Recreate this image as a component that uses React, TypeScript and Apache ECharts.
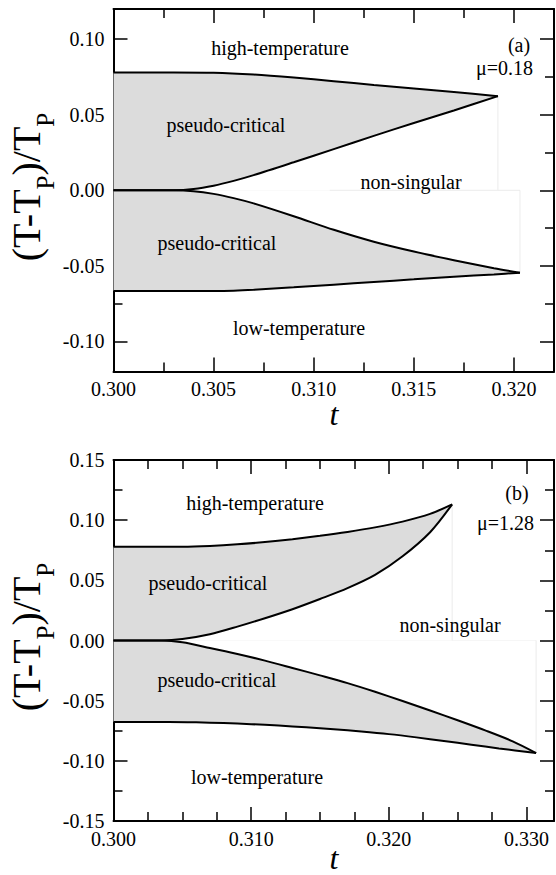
import { useEffect, useRef } from "react";
import * as echarts from "echarts";

// ---------- panel (a): mu = 0.18 ----------
const aHighUpper: [number, number][] = [
  [0.300, 0.078], [0.303, 0.078], [0.305, 0.0778], [0.307, 0.0766], [0.309, 0.0746],
  [0.311, 0.0722], [0.313, 0.0697], [0.315, 0.0674], [0.317, 0.0651], [0.3192, 0.0623],
];
const aHighLower: [number, number][] = [
  [0.300, 0], [0.303, 0], [0.304, 0.0008], [0.305, 0.003], [0.306, 0.0062], [0.307, 0.0100],
  [0.309, 0.0185], [0.311, 0.0272], [0.313, 0.0360], [0.315, 0.0445], [0.317, 0.0528], [0.3192, 0.0623],
];
const aLowUpper: [number, number][] = [
  [0.300, 0], [0.303, 0], [0.304, -0.0006], [0.305, -0.0024], [0.306, -0.0052], [0.307, -0.0087],
  [0.309, -0.0172], [0.311, -0.0262], [0.313, -0.0341], [0.315, -0.0406], [0.317, -0.0463],
  [0.319, -0.0516], [0.3203, -0.0546],
];
const aLowLower: [number, number][] = [
  [0.300, -0.0667], [0.303, -0.0667], [0.305, -0.0667], [0.306, -0.0665], [0.307, -0.0659],
  [0.309, -0.0643], [0.311, -0.0625], [0.313, -0.0607], [0.315, -0.059], [0.317, -0.0573],
  [0.319, -0.0557], [0.3203, -0.0546],
];
const aFaintZeroStart = 0.3108;
const aXMajor = [0.300, 0.305, 0.310, 0.315, 0.320];
const aXMinor = [0.3025, 0.3075, 0.3125, 0.3175];
const aYMajor = [-0.10, -0.05, 0, 0.05, 0.10];
const aYMinor = [-0.075, -0.025, 0.025, 0.075];

// ---------- panel (b): mu = 1.28 ----------
const bHighUpper: [number, number][] = [
  [0.300, 0.078], [0.303, 0.078], [0.305, 0.078], [0.307, 0.0786], [0.309, 0.0799], [0.311, 0.0818],
  [0.313, 0.0842], [0.315, 0.087], [0.317, 0.0902], [0.319, 0.094], [0.321, 0.0988], [0.323, 0.1052],
  [0.3246, 0.1131],
];
const bHighLower: [number, number][] = [
  [0.300, 0], [0.3035, 0], [0.305, 0.0012], [0.307, 0.0052], [0.309, 0.0115], [0.311, 0.0185],
  [0.313, 0.026], [0.315, 0.0345], [0.317, 0.0435], [0.319, 0.0545], [0.321, 0.07], [0.323, 0.09],
  [0.3246, 0.1131],
];
const bLowUpper: [number, number][] = [
  [0.300, 0], [0.3035, 0], [0.305, -0.0015], [0.307, -0.0062], [0.309, -0.0112], [0.311, -0.0167],
  [0.313, -0.0228], [0.315, -0.029], [0.317, -0.0354], [0.319, -0.0426], [0.321, -0.0503],
  [0.323, -0.0582], [0.325, -0.0663], [0.327, -0.0747], [0.329, -0.0838], [0.3307, -0.0935],
];
const bLowLower: [number, number][] = [
  [0.300, -0.0677], [0.304, -0.0677], [0.306, -0.068], [0.308, -0.0686], [0.310, -0.0695],
  [0.312, -0.0707], [0.314, -0.0721], [0.316, -0.0737], [0.318, -0.0756], [0.320, -0.0778],
  [0.322, -0.0805], [0.324, -0.0835], [0.326, -0.0866], [0.328, -0.0897], [0.3307, -0.0935],
];
const bXMajor = [0.300, 0.310, 0.320, 0.330];
const bXMinor = [0.3025, 0.305, 0.3075, 0.3125, 0.315, 0.3175, 0.3225, 0.325, 0.3275];
const bYMajor = [-0.15, -0.10, -0.05, 0, 0.05, 0.10, 0.15];
const bYMinor = [-0.125, -0.075, -0.025, 0.025, 0.075, 0.125];

const FONT = "Liberation Serif, Times New Roman, serif";
const GRAY = "#dcdcdc";

function makeAxes(
  dim: "x" | "y", gridIndex: number, min: number, max: number,
  major: number[], minor: number[], digits: number, margin: number
) {
  const main = dim === "x" ? "bottom" : "left";
  const opp = dim === "x" ? "top" : "right";
  const base = (position: string, showLine: boolean, ticks: number[], len: number, labels: boolean) => ({
    type: "value", gridIndex, min, max, position,
    splitLine: { show: false },
    axisLine: { show: showLine, onZero: false, lineStyle: { color: "#000", width: 2 } },
    axisTick: { show: true, inside: true, length: len, customValues: ticks, lineStyle: { color: "#000", width: 1.5 } },
    axisLabel: labels
      ? {
          show: true, customValues: major, margin,
          formatter: (v: number) => v.toFixed(digits),
          fontFamily: FONT, fontSize: 20, color: "#000",
        }
      : { show: false },
  });
  return [
    base(main, true, major, 14, true),
    base(main, false, minor, 9, false),
    base(opp, true, major, 14, false),
    base(opp, false, minor, 9, false),
  ];
}

function areaSeries(data: [number, number][], grid: number, color: string, z: number) {
  return {
    type: "line", data, xAxisIndex: grid * 4, yAxisIndex: grid * 4, z,
    smooth: 0.3, showSymbol: false, symbol: "none", silent: true,
    lineStyle: { width: 0, opacity: 0 },
    areaStyle: { color, opacity: 1, origin: "auto" },
  };
}
function lineSeries(data: [number, number][], grid: number) {
  return {
    type: "line", data, xAxisIndex: grid * 4, yAxisIndex: grid * 4, z: 5,
    smooth: 0.3, showSymbol: false, symbol: "none", silent: true,
    lineStyle: { color: "#000", width: 2 },
  };
}
function faint(data: [number, number][], grid: number) {
  return {
    type: "line", data, xAxisIndex: grid * 4, yAxisIndex: grid * 4, z: 4,
    showSymbol: false, symbol: "none", silent: true,
    lineStyle: { color: "#ececec", width: 1 },
  };
}

function txt(text: string, x: number, y: number, align = "center", size = 20, italic = false) {
  return {
    type: "text", x, y, z: 100,
    style: {
      text, fontFamily: FONT, fontSize: size, fill: "#000", align, verticalAlign: "middle",
      fontStyle: italic ? "italic" : "normal",
    },
  };
}
function yTitle(cy: number) {
  return {
    type: "text", x: 32, y: cy, rotation: Math.PI / 2, z: 100,
    style: {
      text: "{a|(T-T}{s|P}{a|)/T}{s|P}",
      align: "center", verticalAlign: "middle",
      rich: {
        a: { fontFamily: FONT, fontSize: 40, lineHeight: 52, verticalAlign: "top", fill: "#000" },
        s: { fontFamily: FONT, fontSize: 25, lineHeight: 25, verticalAlign: "bottom", fill: "#000" },
      },
    },
  };
}

export default function App() {
  const ref = useRef<HTMLDivElement>(null);
  useEffect(() => {
    if (!ref.current) return;
    const chart = echarts.init(ref.current, undefined, { renderer: "svg" });
    const aTipHigh = aHighUpper[aHighUpper.length - 1];
    const aTipLow = aLowLower[aLowLower.length - 1];
    const bTipHigh = bHighUpper[bHighUpper.length - 1];
    const bTipLow = bLowLower[bLowLower.length - 1];
    chart.setOption({
      animation: false,
      textStyle: { fontFamily: FONT },
      grid: [
        { left: 113.5, right: 2, top: 9, height: 362.5 },
        { left: 113.5, right: 2, top: 460, height: 361 },
      ],
      xAxis: [
        ...makeAxes("x", 0, 0.300, 0.322, aXMajor, aXMinor, 3, 7),
        ...makeAxes("x", 1, 0.300, 0.332, bXMajor, bXMinor, 3, 8),
      ],
      yAxis: [
        ...makeAxes("y", 0, -0.12, 0.12, aYMajor, aYMinor, 2, 9),
        ...makeAxes("y", 1, -0.15, 0.15, bYMajor, bYMinor, 2, 9),
      ],
      series: [
        areaSeries(aHighUpper, 0, GRAY, 1),
        areaSeries(aLowLower, 0, GRAY, 1),
        areaSeries(aHighLower, 0, "#ffffff", 2),
        areaSeries(aLowUpper, 0, "#ffffff", 2),
        faint([[aTipHigh[0], aTipHigh[1]], [aTipHigh[0], 0]], 0),
        faint([[aFaintZeroStart, 0], [aTipLow[0], 0]], 0),
        faint([[aTipLow[0], 0], [aTipLow[0], aTipLow[1]]], 0),
        lineSeries(aHighUpper, 0),
        lineSeries(aHighLower, 0),
        lineSeries(aLowUpper, 0),
        lineSeries(aLowLower, 0),

        areaSeries(bHighUpper, 1, GRAY, 1),
        areaSeries(bLowLower, 1, GRAY, 1),
        areaSeries(bHighLower, 1, "#ffffff", 2),
        areaSeries(bLowUpper, 1, "#ffffff", 2),
        faint([[bTipHigh[0], bTipHigh[1]], [bTipHigh[0], 0]], 1),
        faint([[bTipLow[0], 0], [bTipLow[0], bTipLow[1]]], 1),
        lineSeries(bHighUpper, 1),
        lineSeries(bHighLower, 1),
        lineSeries(bLowUpper, 1),
        lineSeries(bLowLower, 1),
      ],
      graphic: [
        yTitle(187),
        yTitle(637),
        txt("t", 334, 414, "center", 32, true),
        txt("t", 334, 858, "center", 32, true),
        txt("high-temperature", 280, 48),
        txt("(a)", 519, 45),
        txt("μ=0.18", 533, 68, "right"),
        txt("pseudo-critical", 226, 125),
        txt("non-singular", 411, 182),
        txt("pseudo-critical", 217, 243),
        txt("low-temperature", 299, 328),
        txt("high-temperature", 255, 503),
        txt("(b)", 517, 493),
        txt("μ=1.28", 534, 523, "right"),
        txt("pseudo-critical", 208, 583),
        txt("non-singular", 450, 625),
        txt("pseudo-critical", 217, 680),
        txt("low-temperature", 257, 777),
      ],
    });
    return () => chart.dispose();
  }, []);
  return (
    <div
      ref={ref}
      style={{ position: "fixed", left: 0, top: 0, width: 556, height: 875, background: "#fff" }}
    />
  );
}
